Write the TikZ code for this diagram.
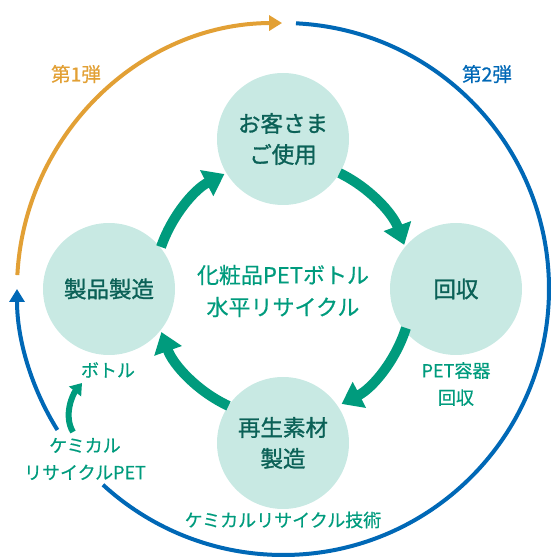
\documentclass[tikz,border=0pt]{standalone}
\usepackage{fontspec}
\setmainfont{Noto Sans CJK JP}[FakeBold=0.5]
\newfontfamily\boldish{Noto Sans CJK JP}[FakeBold=1.2]
\usetikzlibrary{arrows.meta}
\definecolor{cfill}{HTML}{C8E9E3}
\definecolor{ctext}{HTML}{0B6157}
\definecolor{cgreen}{HTML}{009B7D}
\definecolor{corange}{HTML}{E2A035}
\definecolor{cblue}{HTML}{0068B6}
\tikzset{
  stage/.style={circle, fill=cfill, minimum size=132pt, inner sep=0pt, text=ctext, align=center, font=\boldish\fontsize{22.5}{31}\selectfont},
  lbl/.style={text=cgreen, align=center, font=\fontsize{18}{27}\selectfont, inner sep=1pt},
  cycle/.style={draw=cgreen, line width=10pt, -{Triangle[length=20pt,width=28pt]}},
  outerarc/.style={line width=4pt},
  smallarrow/.style={draw=cgreen, line width=6pt, -{Triangle[length=11pt,width=15pt]}}
}
\begin{document}
\begin{tikzpicture}[x=1pt,y=1pt]
\useasboundingbox (0,0) rectangle (553,557);
\coordinate (C) at (283,268);
% outer arcs
\draw[outerarc, draw=corange, -{Triangle[length=13pt,width=15pt]}] (C) ++(177:266) arc[start angle=177, end angle=90.2, radius=266];
\draw[outerarc, draw=cblue] (C) ++(87.2:266) arc[start angle=87.2, end angle=-132.6, radius=266];
\draw[outerarc, draw=cblue, -{Triangle[length=13pt,width=15pt]}] (C) ++(-148:266) arc[start angle=-148, end angle=-180, radius=266];
% stages
\node[stage] (use) at (283,418) {お客さま\\ご使用};
\node[stage] (col) at (456,268) {回収};
\node[stage] (mat) at (283,114) {再生素材\\製造};
\node[stage] (prod) at (109,268) {製品製造};
% inner cycle arrows
\draw[cycle] (C) ++(161:129) arc[start angle=161, end angle=117, radius=129];
\draw[cycle] (C) ++(64:129) arc[start angle=64, end angle=20, radius=129];
\draw[cycle] (C) ++(-17.6:129) arc[start angle=-17.6, end angle=-63, radius=129];
\draw[cycle] (C) ++(-115:129) arc[start angle=-115, end angle=-160.5, radius=129];
% texts
\node[text=cgreen, align=center, font=\fontsize{22}{32}\selectfont] (center) at (283,266) {化粧品PETボトル\\水平リサイクル};
\node[lbl] (bottle) at (108,187) {ボトル};
\node[lbl] (petcol) at (456,173) {PET容器\\回収};
\node[lbl] (chem) at (85,98) {ケミカル\\リサイクルPET};
\node[lbl] (tech) at (283,37) {ケミカルリサイクル技術};
\node[text=corange, font=\fontsize{19.5}{20}\selectfont] (first) at (76,483) {第1弾};
\node[text=cblue, font=\fontsize{19.5}{20}\selectfont] (second) at (487,483) {第2弾};
% small arrow
\coordinate (sa) at (73,125);
\coordinate (sb) at (82,174);
\draw[smallarrow] (sa) .. controls (63,142) and (73,163) .. (sb);
\end{tikzpicture}
\end{document}
